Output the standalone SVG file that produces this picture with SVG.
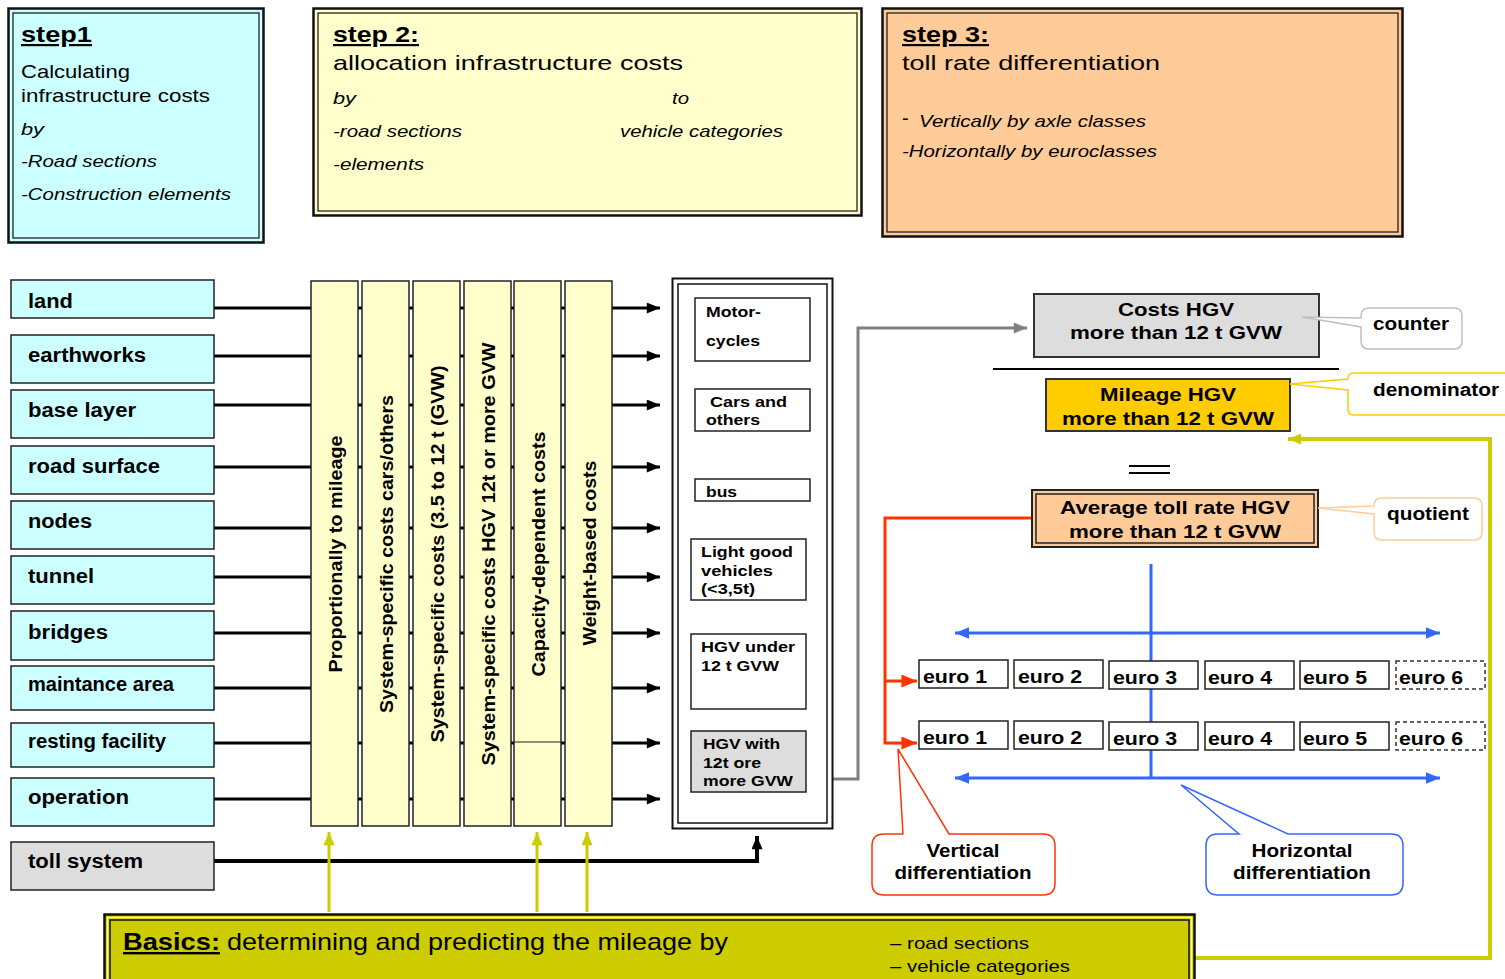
<svg xmlns="http://www.w3.org/2000/svg" width="1505" height="979" viewBox="0 0 1505 979">
<defs>
<style>
text{font-family:"Liberation Sans",Arial,sans-serif;fill:#000}
.b{font-weight:bold}
.i{font-style:italic}
.lbl{font-weight:bold;font-size:20px}
.col{font-weight:bold;font-size:19px}
.veh{font-weight:bold;font-size:15px}
.rt{font-weight:bold;font-size:19px;text-anchor:middle}
.eu{font-weight:bold;font-size:19px}
.co{font-weight:bold;font-size:18px;text-anchor:middle}
.lbox{fill:#CCFFFF;stroke:#222;stroke-width:1.5}
.colr{fill:#FFFFCC;stroke:#222;stroke-width:1.5}
.vb{fill:#fff;stroke:#222;stroke-width:1.5}
.ebox{fill:#fff;stroke:#222;stroke-width:1.5}
.blk{stroke:#000;stroke-width:3;fill:none}
</style>
<marker id="ak" viewBox="0 0 12 10" refX="12" refY="5" markerWidth="14" markerHeight="11" markerUnits="userSpaceOnUse" orient="auto"><path d="M0,0 L12,5 L0,10 z" fill="#000"/></marker>
<marker id="ag" viewBox="0 0 12 10" refX="12" refY="5" markerWidth="14" markerHeight="11" markerUnits="userSpaceOnUse" orient="auto"><path d="M0,0 L12,5 L0,10 z" fill="#808080"/></marker>
<marker id="ay" viewBox="0 0 12 10" refX="12" refY="5" markerWidth="14" markerHeight="11" markerUnits="userSpaceOnUse" orient="auto"><path d="M0,0 L12,5 L0,10 z" fill="#CCCC00"/></marker>
<marker id="ar" viewBox="0 0 12 10" refX="12" refY="5" markerWidth="16" markerHeight="13" markerUnits="userSpaceOnUse" orient="auto"><path d="M0,0 L12,5 L0,10 z" fill="#FF3300"/></marker>
<marker id="ab" viewBox="0 0 12 10" refX="12" refY="5" markerWidth="14" markerHeight="12" markerUnits="userSpaceOnUse" orient="auto-start-reverse"><path d="M0,0 L12,5 L0,10 z" fill="#3366FF"/></marker>
</defs>
<rect width="1505" height="979" fill="#fff"/>

<!-- connectors -->
<g id="connectors">
  <g class="blk" marker-end="url(#ak)">
    <path d="M214,308 H660"/>
    <path d="M214,356 H660"/>
    <path d="M214,405 H660"/>
    <path d="M214,467 H660"/>
    <path d="M214,528 H660"/>
    <path d="M214,577 H660"/>
    <path d="M214,633 H660"/>
    <path d="M214,688 H660"/>
    <path d="M214,743 H660"/>
    <path d="M214,799 H660"/>
  </g>
  <path d="M214,861 H757 V836" fill="none" stroke="#000" stroke-width="4" marker-end="url(#ak)"/>
  <path d="M810,779 H858 V328 H1027" fill="none" stroke="#808080" stroke-width="3" marker-end="url(#ag)"/>
  <g stroke="#CCCC00" stroke-width="3" fill="none" marker-end="url(#ay)">
    <path d="M329,912 V832"/>
    <path d="M537,912 V832"/>
    <path d="M587,912 V832"/>
  </g>
  <path d="M1195,958 H1490 V439 H1288" fill="none" stroke="#CCCC00" stroke-width="4" marker-end="url(#ay)"/>
  <path d="M1032,518 H885 V743 H917" fill="none" stroke="#FF3300" stroke-width="3" marker-end="url(#ar)"/>
  <path d="M885,681 H917" fill="none" stroke="#FF3300" stroke-width="3" marker-end="url(#ar)"/>
  <path d="M1151,564 V778" stroke="#3366FF" stroke-width="3"/>
  <path d="M955,633 H1440" stroke="#3366FF" stroke-width="3" marker-start="url(#ab)" marker-end="url(#ab)"/>
  <path d="M955,778 H1440" stroke="#3366FF" stroke-width="3" marker-start="url(#ab)" marker-end="url(#ab)"/>
  <path d="M993,369 H1339" stroke="#000" stroke-width="2"/>
  <path d="M1129,466 H1170 M1129,473 H1170" stroke="#000" stroke-width="2"/>
</g>

<!-- step boxes -->
<g id="step1">
  <rect x="8.5" y="8.5" width="255" height="234" fill="#CCFFFF" stroke="#111" stroke-width="2.5"/>
  <rect x="13" y="13" width="246" height="225" fill="none" stroke="#111" stroke-width="1.2"/>
  <text x="21" y="42" class="b" font-size="22" text-decoration="underline" textLength="71" lengthAdjust="spacingAndGlyphs">step1</text>
  <text x="21" y="78" font-size="19" textLength="109" lengthAdjust="spacingAndGlyphs">Calculating</text>
  <text x="21" y="102" font-size="19" textLength="189" lengthAdjust="spacingAndGlyphs">infrastructure costs</text>
  <text x="21" y="135" class="i" font-size="17" textLength="23" lengthAdjust="spacingAndGlyphs">by</text>
  <text x="21" y="167" class="i" font-size="17" textLength="136" lengthAdjust="spacingAndGlyphs">-Road sections</text>
  <text x="21" y="200" class="i" font-size="17" textLength="210" lengthAdjust="spacingAndGlyphs">-Construction elements</text>
</g>
<g id="step2">
  <rect x="313.5" y="8.5" width="548" height="207" fill="#FFFFCC" stroke="#111" stroke-width="2.5"/>
  <rect x="318" y="13" width="539" height="198" fill="none" stroke="#111" stroke-width="1.2"/>
  <text x="333" y="42" class="b" font-size="22" text-decoration="underline" textLength="86" lengthAdjust="spacingAndGlyphs">step 2:</text>
  <text x="333" y="70" font-size="21" textLength="350" lengthAdjust="spacingAndGlyphs">allocation infrastructure costs</text>
  <text x="333" y="104" class="i" font-size="17" textLength="23" lengthAdjust="spacingAndGlyphs">by</text>
  <text x="672" y="104" class="i" font-size="17" textLength="17" lengthAdjust="spacingAndGlyphs">to</text>
  <text x="333" y="137" class="i" font-size="17" textLength="129" lengthAdjust="spacingAndGlyphs">-road sections</text>
  <text x="620" y="137" class="i" font-size="17" textLength="163" lengthAdjust="spacingAndGlyphs">vehicle categories</text>
  <text x="333" y="170" class="i" font-size="17" textLength="91" lengthAdjust="spacingAndGlyphs">-elements</text>
</g>
<g id="step3">
  <rect x="882.5" y="8.5" width="520" height="228" fill="#FFCC99" stroke="#111" stroke-width="2.5"/>
  <rect x="887" y="13" width="511" height="219" fill="none" stroke="#111" stroke-width="1.2"/>
  <text x="902" y="42" class="b" font-size="22" text-decoration="underline" textLength="87" lengthAdjust="spacingAndGlyphs">step 3:</text>
  <text x="902" y="70" font-size="21" textLength="258" lengthAdjust="spacingAndGlyphs">toll rate differentiation</text>
  <text x="902" y="125" font-size="20">-</text>
  <text x="919" y="127" class="i" font-size="17" textLength="227" lengthAdjust="spacingAndGlyphs">Vertically by axle classes</text>
  <text x="902" y="157" class="i" font-size="17" textLength="255" lengthAdjust="spacingAndGlyphs">-Horizontally by euroclasses</text>
</g>

<!-- left element boxes -->
<g id="land"><rect class="lbox" x="11" y="280" width="203" height="38"/><text class="lbl" x="28" y="308" textLength="45" lengthAdjust="spacingAndGlyphs">land</text></g>
<g id="earthworks"><rect class="lbox" x="11" y="335" width="203" height="48"/><text class="lbl" x="28" y="362" textLength="118" lengthAdjust="spacingAndGlyphs">earthworks</text></g>
<g id="base-layer"><rect class="lbox" x="11" y="390" width="203" height="48"/><text class="lbl" x="28" y="417" textLength="108" lengthAdjust="spacingAndGlyphs">base layer</text></g>
<g id="road-surface"><rect class="lbox" x="11" y="446" width="203" height="48"/><text class="lbl" x="28" y="473" textLength="132" lengthAdjust="spacingAndGlyphs">road surface</text></g>
<g id="nodes"><rect class="lbox" x="11" y="501" width="203" height="48"/><text class="lbl" x="28" y="528" textLength="64" lengthAdjust="spacingAndGlyphs">nodes</text></g>
<g id="tunnel"><rect class="lbox" x="11" y="556" width="203" height="48"/><text class="lbl" x="28" y="583" textLength="66" lengthAdjust="spacingAndGlyphs">tunnel</text></g>
<g id="bridges"><rect class="lbox" x="11" y="611" width="203" height="49"/><text class="lbl" x="28" y="639" textLength="80" lengthAdjust="spacingAndGlyphs">bridges</text></g>
<g id="maintance-area"><rect class="lbox" x="11" y="666" width="203" height="44"/><text class="lbl" x="28" y="691" textLength="146" lengthAdjust="spacingAndGlyphs">maintance area</text></g>
<g id="resting-facility"><rect class="lbox" x="11" y="723" width="203" height="44"/><text class="lbl" x="28" y="748" textLength="138" lengthAdjust="spacingAndGlyphs">resting facility</text></g>
<g id="operation"><rect class="lbox" x="11" y="778" width="203" height="48"/><text class="lbl" x="28" y="804" textLength="101" lengthAdjust="spacingAndGlyphs">operation</text></g>
<g id="toll-system"><rect x="11" y="842" width="203" height="48" fill="#DDDDDD" stroke="#222" stroke-width="1.5"/><text class="lbl" x="28" y="868" textLength="115" lengthAdjust="spacingAndGlyphs">toll system</text></g>

<!-- cost columns -->
<g id="col-mileage"><rect class="colr" x="311" y="281" width="47" height="545"/><text class="col" text-anchor="middle" transform="translate(342,554) rotate(-90)" textLength="237" lengthAdjust="spacingAndGlyphs">Proportionally to mileage</text></g>
<g id="col-cars"><rect class="colr" x="362" y="281" width="47" height="545"/><text class="col" text-anchor="middle" transform="translate(393,554) rotate(-90)" textLength="318" lengthAdjust="spacingAndGlyphs">System-specific costs cars/others</text></g>
<g id="col-35-12"><rect class="colr" x="413" y="281" width="47" height="545"/><text class="col" text-anchor="middle" transform="translate(444,554) rotate(-90)" textLength="377" lengthAdjust="spacingAndGlyphs">System-specific costs (3.5 to 12 t (GVW)</text></g>
<g id="col-hgv12"><rect class="colr" x="464" y="281" width="47" height="545"/><text class="col" text-anchor="middle" transform="translate(495,554) rotate(-90)" textLength="423" lengthAdjust="spacingAndGlyphs">System-specific costs HGV 12t or more GVW</text></g>
<g id="col-capacity"><rect class="colr" x="514" y="281" width="47" height="545"/><path d="M514,742 H561" stroke="#222" stroke-width="1"/><text class="col" text-anchor="middle" transform="translate(545,554) rotate(-90)" textLength="245" lengthAdjust="spacingAndGlyphs">Capacity-dependent costs</text></g>
<g id="col-weight"><rect class="colr" x="565" y="281" width="47" height="545"/><text class="col" text-anchor="middle" transform="translate(596,553) rotate(-90)" textLength="185" lengthAdjust="spacingAndGlyphs">Weight-based costs</text></g>

<!-- vehicle categories -->
<g id="vehicles">
  <rect x="672.5" y="278.5" width="160" height="550" fill="#fff" stroke="#111" stroke-width="2"/>
  <rect x="678" y="284" width="149" height="539" fill="none" stroke="#111" stroke-width="1.5"/>
</g>
<g id="veh-motorcycles"><rect class="vb" x="695" y="298" width="115" height="63"/><text class="veh" x="706" y="317" textLength="55" lengthAdjust="spacingAndGlyphs">Motor-</text><text class="veh" x="706" y="346" textLength="54" lengthAdjust="spacingAndGlyphs">cycles</text></g>
<g id="veh-cars"><rect class="vb" x="695" y="389" width="115" height="42"/><text class="veh" x="710" y="407" textLength="77" lengthAdjust="spacingAndGlyphs">Cars and</text><text class="veh" x="706" y="425" textLength="54" lengthAdjust="spacingAndGlyphs">others</text></g>
<g id="veh-bus"><rect class="vb" x="695" y="479" width="115" height="22"/><text class="veh" x="706" y="497" textLength="31" lengthAdjust="spacingAndGlyphs">bus</text></g>
<g id="veh-lgv"><rect class="vb" x="691" y="539" width="115" height="61"/><text class="veh" x="701" y="557" textLength="92" lengthAdjust="spacingAndGlyphs">Light good</text><text class="veh" x="701" y="576" textLength="72" lengthAdjust="spacingAndGlyphs">vehicles</text><text class="veh" x="701" y="594" textLength="54" lengthAdjust="spacingAndGlyphs">(&lt;3,5t)</text></g>
<g id="veh-hgv-under"><rect class="vb" x="691" y="634" width="115" height="75"/><text class="veh" x="701" y="652" textLength="94" lengthAdjust="spacingAndGlyphs">HGV under</text><text class="veh" x="701" y="671" textLength="78" lengthAdjust="spacingAndGlyphs">12 t GVW</text></g>
<g id="veh-hgv-with"><rect x="691" y="731" width="115" height="61" fill="#DDDDDD" stroke="#222" stroke-width="1.5"/><text class="veh" x="703" y="749" textLength="77" lengthAdjust="spacingAndGlyphs">HGV with</text><text class="veh" x="703" y="768" textLength="58" lengthAdjust="spacingAndGlyphs">12t ore</text><text class="veh" x="703" y="786" textLength="90" lengthAdjust="spacingAndGlyphs">more GVW</text></g>

<!-- fraction -->
<g id="costs-hgv"><rect x="1034" y="294" width="285" height="63" fill="#DDDDDD" stroke="#333" stroke-width="2"/><text class="rt" x="1176" y="316" textLength="116" lengthAdjust="spacingAndGlyphs">Costs HGV</text><text class="rt" x="1176" y="339" textLength="212" lengthAdjust="spacingAndGlyphs">more than 12 t GVW</text></g>
<g id="counter"><path d="M1369,308 H1454 Q1462,308 1462,316 V341 Q1462,349 1454,349 H1369 Q1361,349 1361,341 V327 L1302,317 L1361,318 V316 Q1361,308 1369,308 Z" fill="#fff" stroke="#C0C0C0" stroke-width="1.5"/><text class="co" x="1411" y="330" textLength="76" lengthAdjust="spacingAndGlyphs">counter</text></g>
<g id="mileage-hgv"><rect x="1046" y="379" width="244" height="52" fill="#FFCC00" stroke="#333" stroke-width="2"/><text class="rt" x="1168" y="401" textLength="136" lengthAdjust="spacingAndGlyphs">Mileage HGV</text><text class="rt" x="1168" y="425" textLength="212" lengthAdjust="spacingAndGlyphs">more than 12 t GVW</text></g>
<g id="denominator"><path d="M1354,373 H1512 V415 H1354 Q1348,415 1348,409 V390 L1290,384 L1348,379 Q1348,373 1354,373 Z" fill="#fff" stroke="#FFCC00" stroke-width="1.5"/><text class="co" x="1436" y="396" textLength="126" lengthAdjust="spacingAndGlyphs">denominator</text></g>
<g id="avg-toll"><rect x="1032" y="490" width="286" height="57" fill="#FFCC99" stroke="#222" stroke-width="2"/><rect x="1036" y="494" width="278" height="49" fill="none" stroke="#222" stroke-width="1.5"/><text class="rt" x="1175" y="514" textLength="230" lengthAdjust="spacingAndGlyphs">Average toll rate HGV</text><text class="rt" x="1175" y="538" textLength="212" lengthAdjust="spacingAndGlyphs">more than 12 t GVW</text></g>
<g id="quotient"><path d="M1382,498 H1474 Q1482,498 1482,506 V532 Q1482,540 1474,540 H1382 Q1374,540 1374,532 V514 L1318,508 L1374,506 Q1374,498 1382,498 Z" fill="#fff" stroke="#FFCC99" stroke-width="1.5"/><text class="co" x="1428" y="520" textLength="82" lengthAdjust="spacingAndGlyphs">quotient</text></g>

<!-- euro classes -->
<g id="euro-row1">
  <rect class="ebox" x="919" y="660" width="89" height="28"/><text class="eu" x="923" y="683" textLength="64" lengthAdjust="spacingAndGlyphs">euro 1</text>
  <rect class="ebox" x="1014" y="660" width="89" height="28"/><text class="eu" x="1018" y="683" textLength="64" lengthAdjust="spacingAndGlyphs">euro 2</text>
  <rect class="ebox" x="1109" y="661" width="89" height="28"/><text class="eu" x="1113" y="684" textLength="64" lengthAdjust="spacingAndGlyphs">euro 3</text>
  <rect class="ebox" x="1205" y="661" width="89" height="28"/><text class="eu" x="1208" y="684" textLength="64" lengthAdjust="spacingAndGlyphs">euro 4</text>
  <rect class="ebox" x="1300" y="661" width="89" height="28"/><text class="eu" x="1303" y="684" textLength="64" lengthAdjust="spacingAndGlyphs">euro 5</text>
  <rect x="1396" y="661" width="89" height="28" fill="#fff" stroke="#333" stroke-width="1.5" stroke-dasharray="4,3"/><text class="eu" x="1399" y="684" textLength="64" lengthAdjust="spacingAndGlyphs">euro 6</text>
</g>
<g id="euro-row2">
  <rect class="ebox" x="919" y="721" width="89" height="28"/><text class="eu" x="923" y="744" textLength="64" lengthAdjust="spacingAndGlyphs">euro 1</text>
  <rect class="ebox" x="1014" y="721" width="89" height="28"/><text class="eu" x="1018" y="744" textLength="64" lengthAdjust="spacingAndGlyphs">euro 2</text>
  <rect class="ebox" x="1109" y="722" width="89" height="28"/><text class="eu" x="1113" y="745" textLength="64" lengthAdjust="spacingAndGlyphs">euro 3</text>
  <rect class="ebox" x="1205" y="722" width="89" height="28"/><text class="eu" x="1208" y="745" textLength="64" lengthAdjust="spacingAndGlyphs">euro 4</text>
  <rect class="ebox" x="1300" y="722" width="89" height="28"/><text class="eu" x="1303" y="745" textLength="64" lengthAdjust="spacingAndGlyphs">euro 5</text>
  <rect x="1396" y="722" width="89" height="28" fill="#fff" stroke="#333" stroke-width="1.5" stroke-dasharray="4,3"/><text class="eu" x="1399" y="745" textLength="64" lengthAdjust="spacingAndGlyphs">euro 6</text>
</g>

<!-- callouts -->
<g id="vertical-diff"><path d="M884,834 H903 L898,749 L949,834 H1043 Q1055,834 1055,846 V883 Q1055,895 1043,895 H884 Q872,895 872,883 V846 Q872,834 884,834 Z" fill="#fff" stroke="#FF3300" stroke-width="1.5"/><text class="co" x="963" y="857" textLength="73" lengthAdjust="spacingAndGlyphs">Vertical</text><text class="co" x="963" y="879" textLength="137" lengthAdjust="spacingAndGlyphs">differentiation</text></g>
<g id="horizontal-diff"><path d="M1218,834 H1239 L1181,785 L1288,834 H1391 Q1403,834 1403,846 V883 Q1403,895 1391,895 H1218 Q1206,895 1206,883 V846 Q1206,834 1218,834 Z" fill="#fff" stroke="#3366FF" stroke-width="1.5"/><text class="co" x="1302" y="857" textLength="101" lengthAdjust="spacingAndGlyphs">Horizontal</text><text class="co" x="1302" y="879" textLength="138" lengthAdjust="spacingAndGlyphs">differentiation</text></g>

<!-- basics -->
<g id="basics">
  <rect x="104.5" y="914.5" width="1090" height="75" fill="#CCCC00" stroke="#111" stroke-width="2.5"/>
  <rect x="107.5" y="917.5" width="1084" height="75" fill="none" stroke="#FFFF99" stroke-width="1.5"/>
  <rect x="110" y="920" width="1079" height="75" fill="none" stroke="#111" stroke-width="1.5"/>
  <text x="123" y="950" class="b" font-size="24" text-decoration="underline" textLength="97" lengthAdjust="spacingAndGlyphs">Basics:</text>
  <text x="227" y="950" font-size="24" textLength="501" lengthAdjust="spacingAndGlyphs">determining and predicting the mileage by</text>
  <text x="890" y="949" font-size="17" textLength="139" lengthAdjust="spacingAndGlyphs">– road sections</text>
  <text x="890" y="972" font-size="17" textLength="180" lengthAdjust="spacingAndGlyphs">– vehicle categories</text>
</g>
</svg>
